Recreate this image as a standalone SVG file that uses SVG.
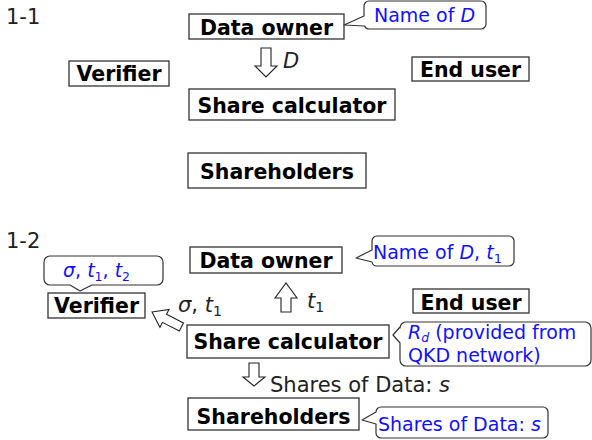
<svg xmlns="http://www.w3.org/2000/svg" width="592" height="440" viewBox="0 0 592 440">
<style>
.box{fill:#fff;stroke:#333;stroke-width:1.3}
.lbl{font-family:"DejaVu Sans",Verdana,sans-serif;font-weight:bold;font-size:20.5px;fill:#000;text-anchor:middle}
.txt{font-family:"DejaVu Sans",Verdana,sans-serif;font-size:21px;fill:#222}
.sec{font-family:"DejaVu Sans",Verdana,sans-serif;font-size:21px;fill:#222}
.call{fill:#fff;stroke:#333;stroke-width:1.2;stroke-linejoin:round}
.blue{font-family:"DejaVu Sans",Verdana,sans-serif;font-size:19px;fill:#1010ff}
.arr{fill:#fff;stroke:#222;stroke-width:1.1;stroke-linejoin:miter}
.it{font-style:italic}
</style>
<rect width="592" height="440" fill="#fff"/>
<text class="sec" x="6" y="24">1-1</text>
<text class="sec" x="6" y="248">1-2</text>

<g id="connectors">
  <polygon class="arr" points="261,48 271,48 271,66 277,66 266,77 255,66 261,66"/>
  <text class="txt it" x="283" y="68">D</text>
  <polygon class="arr" points="281,312 291,312 291,298 297,298 286,283 275,298 281,298"/>
  <text class="txt" x="307" y="308"><tspan class="it">t</tspan><tspan font-size="14" dy="4">1</tspan></text>
  <polygon class="arr" transform="translate(152,312) rotate(27)" points="0,0 14,-10 14,-4.5 33,-4.5 33,4.5 14,4.5 14,10"/>
  <text class="txt" x="178" y="312"><tspan class="it">σ</tspan>, <tspan class="it">t</tspan><tspan font-size="14" dy="4">1</tspan></text>
  <polygon class="arr" points="249,363 259,363 259,377 265,377 254,386 243,377 249,377"/>
  <text class="txt" x="270" y="392">Shares of Data: <tspan class="it">s</tspan></text>
</g>

<g id="data-owner-1"><rect class="box" x="189" y="14" width="155" height="25"/><text class="lbl" x="266.5" y="35">Data owner</text></g>
<g id="callout-name-1"><path class="call" d="M369,1 H481 A5,5 0 0 1 486,6 V24 A5,5 0 0 1 481,29 H369 A5,5 0 0 1 364.5,26 L344,25 L364,16 V6 A5,5 0 0 1 369,1 Z"/><text class="blue" x="374" y="22">Name of <tspan class="it">D</tspan></text></g>
<g id="verifier-1"><rect class="box" x="69" y="61" width="100" height="25"/><text class="lbl" x="119" y="81">Verifier</text></g>
<g id="end-user-1"><rect class="box" x="412" y="57" width="117" height="24"/><text class="lbl" x="470.5" y="77">End user</text></g>
<g id="share-calc-1"><rect class="box" x="189" y="89" width="206" height="31"/><text class="lbl" x="292" y="113">Share calculator</text></g>
<g id="shareholders-1"><rect class="box" x="188" y="153" width="178" height="35"/><text class="lbl" x="277" y="179">Shareholders</text></g>

<g id="data-owner-2"><rect class="box" x="190" y="247" width="152" height="26"/><text class="lbl" x="266" y="268">Data owner</text></g>
<g id="callout-name-2"><path class="call" d="M377,236 H509 A5,5 0 0 1 514,241 V261 A5,5 0 0 1 509,266 H377 A5,5 0 0 1 372,262 L356,258 L372,250 V241 A5,5 0 0 1 377,236 Z"/><text class="blue" x="373" y="259">Name of <tspan class="it">D</tspan>, <tspan class="it">t</tspan><tspan font-size="13" dy="4">1</tspan></text></g>
<g id="callout-verifier-2"><path class="call" d="M50,256 H157 A6,6 0 0 1 163,262 V279 A6,6 0 0 1 157,285 H92 L80,291 L70,285 H50 A6,6 0 0 1 44,279 V262 A6,6 0 0 1 50,256 Z"/><text class="blue" x="63" y="277" font-size="18"><tspan class="it">σ</tspan>, <tspan class="it">t</tspan><tspan font-size="12.5" dy="4">1</tspan><tspan dy="-4">, </tspan><tspan class="it">t</tspan><tspan font-size="12.5" dy="4">2</tspan></text></g>
<g id="verifier-2"><rect class="box" x="48" y="293" width="97" height="25"/><text class="lbl" x="96.5" y="313">Verifier</text></g>
<g id="end-user-2"><rect class="box" x="413" y="289" width="116" height="24"/><text class="lbl" x="471" y="310">End user</text></g>
<g id="share-calc-2"><rect class="box" x="187" y="325" width="202" height="33"/><text class="lbl" x="288" y="349">Share calculator</text></g>
<g id="callout-rd"><path class="call" d="M406,322 H585 A6,6 0 0 1 591,328 V360 A6,6 0 0 1 585,366 H406 A6,6 0 0 1 400,360 V343 L393,335 L400,327 V328 A6,6 0 0 1 406,322 Z"/><text class="blue" x="408" y="339" font-size="18.5"><tspan class="it">R</tspan><tspan class="it" font-size="12.5" dy="3">d</tspan><tspan dy="-3"> (provided from</tspan></text><text class="blue" x="408" y="362" font-size="18.5">QKD network)</text></g>
<g id="shareholders-2"><rect class="box" x="188" y="398" width="171" height="32"/><text class="lbl" x="273.5" y="424">Shareholders</text></g>
<g id="callout-shares"><path class="call" d="M381,407 H543 A5,5 0 0 1 548,412 V433 A5,5 0 0 1 543,438 H381 A5,5 0 0 1 376,433 V424 L362,420 L376,412 A5,5 0 0 1 381,407 Z"/><text class="blue" x="378" y="431" font-size="17">Shares of Data: <tspan class="it">s</tspan></text></g>
</svg>
